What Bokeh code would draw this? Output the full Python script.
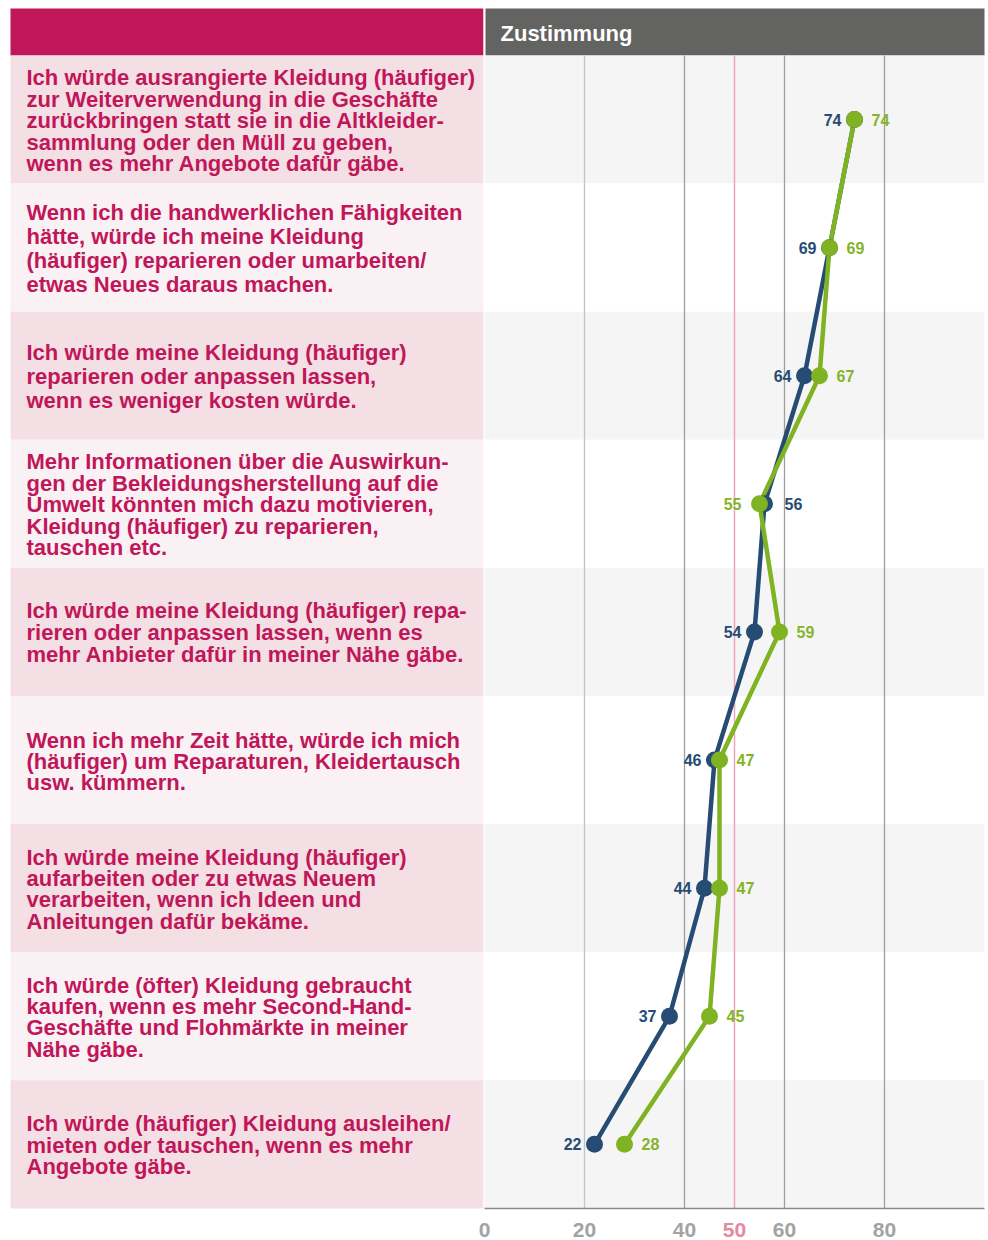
from bokeh.plotting import figure
from bokeh.models import Range1d
from bokeh.embed import file_html
from bokeh.resources import INLINE
from bokeh.core.properties import value

# ---------------- data ----------------
statements = [
    "Ich würde ausrangierte Kleidung (häufiger)\nzur Weiterverwendung in die Geschäfte\nzurückbringen statt sie in die Altkleider-\nsammlung oder den Müll zu geben,\nwenn es mehr Angebote dafür gäbe.",
    "Wenn ich die handwerklichen Fähigkeiten\nhätte, würde ich meine Kleidung\n(häufiger) reparieren oder umarbeiten/\netwas Neues daraus machen.",
    "Ich würde meine Kleidung (häufiger)\nreparieren oder anpassen lassen,\nwenn es weniger kosten würde.",
    "Mehr Informationen über die Auswirkun-\ngen der Bekleidungsherstellung auf die\nUmwelt könnten mich dazu motivieren,\nKleidung (häufiger) zu reparieren,\ntauschen etc.",
    "Ich würde meine Kleidung (häufiger) repa-\nrieren oder anpassen lassen, wenn es\nmehr Anbieter dafür in meiner Nähe gäbe.",
    "Wenn ich mehr Zeit hätte, würde ich mich\n(häufiger) um Reparaturen, Kleidertausch\nusw. kümmern.",
    "Ich würde meine Kleidung (häufiger)\naufarbeiten oder zu etwas Neuem\nverarbeiten, wenn ich Ideen und\nAnleitungen dafür bekäme.",
    "Ich würde (öfter) Kleidung gebraucht\nkaufen, wenn es mehr Second-Hand-\nGeschäfte und Flohmärkte in meiner\nNähe gäbe.",
    "Ich würde (häufiger) Kleidung ausleihen/\nmieten oder tauschen, wenn es mehr\nAngebote gäbe.",
]
blue_values = [74, 69, 64, 56, 54, 46, 44, 37, 22]
green_values = [74, 69, 67, 55, 59, 47, 47, 45, 28]
tick_values = [0, 20, 40, 50, 60, 80]
tick_labels = ["0", "20", "40", "50", "60", "80"]
header_text = "Zustimmung"

# ---------------- layout / style ----------------
W, H = 986, 1240
PX = 5.0          # pixels per percentage point
ZERO = 484        # pixel position of value 0 inside the figure
ROW = 128.1       # row height in px
TOP = 8           # white space above header
HEAD = 47         # header height in px
BOTTOM = H - TOP - HEAD - 9 * ROW  # room below rows for tick labels

X0, X1 = -ZERO / PX, (W - ZERO) / PX
LEFT_EDGE = (10 - ZERO) / PX
LEFT_RIGHT = -1.2 / PX
XMAX = 100

MAGENTA = "#C0165A"
GREY_HEAD = "#636362"
PINK_DARK = "#F3DFE4"
PINK_LIGHT = "#F9F1F4"
GREY_ROW = "#F5F5F5"
BLUE = "#274C74"
GREEN = "#7FB323"
FONT = value("Liberation Sans")

n = len(statements)
p = figure(width=W, height=H, output_backend="svg", toolbar_location=None,
           x_range=Range1d(X0, X1),
           y_range=Range1d(n + BOTTOM / ROW, -(HEAD + TOP) / ROW),
           x_axis_type=None, y_axis_type=None, min_border=0,
           outline_line_color=None, background_fill_color="white",
           border_fill_color="white")
p.xgrid.visible = False
p.ygrid.visible = False

# header
p.quad(left=[LEFT_EDGE], right=[LEFT_RIGHT], top=[-HEAD / ROW], bottom=[0],
       fill_color=MAGENTA, line_color=None)
p.quad(left=[0.2], right=[XMAX], top=[-HEAD / ROW], bottom=[0],
       fill_color=GREY_HEAD, line_color=None)
p.text(x=[16 / PX], y=[-HEAD / ROW / 2 + 1 / ROW], text=[header_text],
       text_color="white", text_font=FONT, text_font_style="bold",
       text_font_size="22px", text_baseline="middle", text_align="left")

# row backgrounds
rows = list(range(n))
p.quad(left=[LEFT_EDGE] * n, right=[LEFT_RIGHT] * n,
       top=rows, bottom=[r + 1 for r in rows],
       fill_color=[PINK_DARK if r % 2 == 0 else PINK_LIGHT for r in rows],
       line_color=None)
p.quad(left=[0] * n, right=[XMAX] * n,
       top=rows, bottom=[r + 1 for r in rows],
       fill_color=[GREY_ROW if r % 2 == 0 else "#FFFFFF" for r in rows],
       line_color=None)

# statement texts
line_gap = [21.5, 24, 24, 21.5, 22, 21, 21.3, 21.3, 21.5]
tx, ty, tt = [], [], []
for i, s in enumerate(statements):
    lines = s.split("\n")
    m = len(lines)
    for k, line in enumerate(lines):
        tx.append((26 - ZERO) / PX)
        ty.append(i + 0.5 + 1 / ROW + (k - (m - 1) / 2) * line_gap[i] / ROW)
        tt.append(line)
p.text(x=tx, y=ty, text=tt, text_color=MAGENTA, text_font=FONT,
       text_font_style="bold", text_font_size="22px",
       text_baseline="middle", text_align="left")

# grid lines
grid = [t for t in tick_values if t not in (0, 50)]
p.segment(x0=grid, x1=grid, y0=[0] * len(grid), y1=[n] * len(grid),
          line_color=["#C4C4C4" if g == 20 else "#9E9E9E" for g in grid],
          line_width=1.3)
p.segment(x0=[50], x1=[50], y0=[0], y1=[n], line_color="#E9A6B8", line_width=1.5)
# baseline
p.segment(x0=[0], x1=[XMAX], y0=[n], y1=[n], line_color="#8C8C8C", line_width=1.5)

# tick labels
p.text(x=tick_values, y=[n + 22 / ROW] * len(tick_values), text=tick_labels,
       text_color=["#E38AA3" if t == 50 else "#A3A3A3" for t in tick_values],
       text_font=FONT, text_font_style="bold", text_font_size="21px",
       text_baseline="middle", text_align="center")

# lines and points
centers = [r + 0.5 for r in rows]
p.line(blue_values, centers, line_color=BLUE, line_width=4.5)
p.line(green_values, centers, line_color=GREEN, line_width=4.5)
p.scatter(blue_values, centers, size=17, fill_color=BLUE, line_color=None)
p.scatter(green_values, centers, size=17, fill_color=GREEN, line_color=None)

# value labels (blue left / green right, swapped in row 4)
swap = [False, False, False, True, False, False, False, False, False]
bl_align = ["left" if s else "right" for s in swap]
bl_off = [20 if s else -13 for s in swap]
gr_align = ["right" if s else "left" for s in swap]
gr_off = [-18 if s else 17 for s in swap]
p.text(x=blue_values, y=centers, text=[str(v) for v in blue_values],
       x_offset=bl_off, text_align=bl_align, text_baseline="middle",
       text_color=BLUE, text_font=FONT, text_font_style="bold",
       text_font_size="16px")
p.text(x=green_values, y=centers, text=[str(v) for v in green_values],
       x_offset=gr_off, text_align=gr_align, text_baseline="middle",
       text_color="#84B42A", text_font=FONT, text_font_style="bold",
       text_font_size="16px")

open("out.html", "w").write(file_html(p, INLINE))
